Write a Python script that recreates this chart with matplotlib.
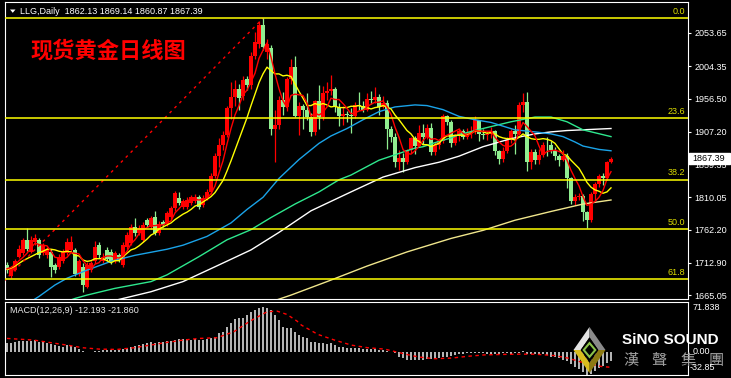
import numpy as np
import matplotlib.pyplot as plt
from matplotlib.patches import Polygon, Rectangle

plt.rcParams['font.family'] = ['Liberation Sans', 'DejaVu Sans']

# LLG daily candles, 2020-05-11 .. 2020-12-08
opens = [1710, 1693, 1702, 1722, 1727, 1747, 1729, 1744, 1747, 1727,
         1725, 1729, 1710, 1707, 1715, 1727, 1732, 1732, 1697, 1707,
         1677, 1702, 1715, 1739, 1715, 1732, 1729, 1715, 1724, 1710,
         1737, 1742, 1766, 1757, 1747, 1776, 1766, 1781, 1757, 1774,
         1771, 1781, 1794, 1809, 1796, 1796, 1801, 1804, 1811, 1799,
         1809, 1818, 1842, 1871, 1888, 1902, 1942, 1958, 1970, 1960,
         1985, 1976, 2019, 2038, 2066, 2025, 2031, 1912, 1917, 1955,
         1944, 1985, 2003, 1930, 1946, 1940, 1929, 1907, 1953, 1929,
         1964, 1968, 1970, 1944, 1930, 1934, 1932, 1930, 1947, 1945,
         1940, 1956, 1954, 1959, 1944, 1950, 1912, 1900, 1863, 1868,
         1862, 1880, 1898, 1886, 1906, 1900, 1913, 1877, 1887, 1894,
         1930, 1922, 1891, 1902, 1908, 1900, 1905, 1907, 1924, 1904,
         1902, 1904, 1908, 1878, 1867, 1879, 1895, 1909, 1904, 1947,
         1951, 1862, 1877, 1866, 1873, 1888, 1887, 1880, 1871, 1866,
         1871, 1838, 1805, 1811, 1812, 1788, 1776, 1815, 1830, 1841,
         1839, 1862.13]
highs = [1714, 1708, 1718, 1740, 1750, 1764, 1752, 1756, 1750, 1742,
         1737, 1733, 1713, 1726, 1734, 1749, 1752, 1735, 1718, 1712,
         1714, 1716, 1745, 1744, 1727, 1737, 1733, 1731, 1728, 1744,
         1758, 1770, 1779, 1769, 1773, 1780, 1783, 1789, 1775, 1777,
         1790, 1797, 1820, 1818, 1808, 1810, 1814, 1815, 1814, 1813,
         1822, 1846, 1876, 1898, 1909, 1945, 1981, 1984, 1978, 1990,
         1990, 2026, 2055, 2071, 2076, 2045, 2036, 1940, 1960, 1966,
         1989, 2015, 2020, 1951, 1949, 1965, 1935, 1955, 1976, 1975,
         1981, 1992, 1973, 1950, 1946, 1938, 1943, 1952, 1966, 1953,
         1965, 1967, 1973, 1963, 1960, 1955, 1916, 1905, 1880, 1875,
         1882, 1900, 1901, 1917, 1918, 1919, 1920, 1892, 1897, 1933,
         1932, 1925, 1904, 1913, 1912, 1913, 1915, 1931, 1925, 1911,
         1908, 1914, 1910, 1880, 1884, 1899, 1911, 1917, 1951, 1965,
         1966, 1882, 1882, 1881, 1892, 1899, 1894, 1885, 1874, 1880,
         1875, 1840, 1815, 1817, 1815, 1790, 1818, 1833, 1845, 1846,
         1864, 1869.14]
lows = [1698, 1690, 1700, 1720, 1725, 1730, 1727, 1740, 1720, 1724,
        1720, 1692, 1698, 1704, 1712, 1724, 1729, 1693, 1693, 1670,
        1675, 1699, 1712, 1720, 1712, 1716, 1711, 1712, 1714, 1707,
        1734, 1739, 1752, 1754, 1744, 1766, 1763, 1754, 1754, 1766,
        1768, 1778, 1790, 1798, 1793, 1793, 1798, 1801, 1793, 1796,
        1806, 1815, 1838, 1855, 1880, 1899, 1926, 1946, 1940, 1954,
        1969, 1970, 2015, 2032, 2028, 2015, 1902, 1863, 1912, 1932,
        1938, 1978, 1929, 1902, 1911, 1925, 1901, 1903, 1911, 1925,
        1955, 1962, 1936, 1916, 1917, 1922, 1906, 1928, 1940, 1937,
        1938, 1948, 1950, 1932, 1942, 1882, 1892, 1855, 1850, 1848,
        1860, 1875, 1874, 1884, 1889, 1896, 1873, 1873, 1882, 1890,
        1917, 1885, 1888, 1893, 1896, 1897, 1898, 1904, 1894, 1897,
        1895, 1898, 1872, 1860, 1863, 1876, 1890, 1874, 1902, 1936,
        1849, 1852, 1860, 1860, 1870, 1871, 1876, 1866, 1856, 1864,
        1824, 1800, 1799, 1806, 1775, 1764, 1773, 1806, 1825, 1828,
        1836, 1860.87]
closes = [1702, 1705, 1715, 1734, 1747, 1734, 1747, 1749, 1724, 1739,
          1732, 1707, 1702, 1722, 1729, 1744, 1744, 1697, 1715, 1680,
          1710, 1712, 1737, 1724, 1722, 1719, 1715, 1727, 1717, 1739,
          1754, 1766, 1757, 1764, 1769, 1769, 1779, 1757, 1771, 1769,
          1786, 1794, 1816, 1801, 1804, 1806, 1811, 1811, 1796, 1809,
          1818, 1842, 1871, 1888, 1902, 1942, 1958, 1970, 1957, 1984,
          1976, 2019, 2041, 2066, 2033, 2038, 1912, 1917, 1955, 1944,
          1985, 2003, 1930, 1946, 1940, 1929, 1907, 1953, 1929, 1964,
          1968, 1970, 1944, 1930, 1934, 1932, 1930, 1947, 1945, 1940,
          1956, 1954, 1959, 1944, 1950, 1912, 1900, 1863, 1868, 1862,
          1880, 1898, 1886, 1906, 1900, 1913, 1877, 1887, 1894, 1930,
          1922, 1891, 1902, 1908, 1900, 1905, 1907, 1924, 1904, 1902,
          1904, 1908, 1878, 1867, 1879, 1895, 1909, 1904, 1947, 1951,
          1862, 1877, 1866, 1873, 1888, 1887, 1880, 1871, 1866, 1871,
          1838, 1805, 1811, 1812, 1788, 1776, 1815, 1830, 1841, 1839,
          1862, 1867.39]

# moving average lines
ma5 = [1704, 1706, 1710, 1716, 1721, 1727, 1735, 1742, 1740, 1739,
       1738, 1730, 1721, 1720, 1718, 1721, 1728, 1727, 1726, 1716,
       1709, 1703, 1711, 1713, 1721, 1723, 1723, 1721, 1720, 1723,
       1730, 1741, 1747, 1756, 1762, 1765, 1768, 1768, 1769, 1769,
       1772, 1775, 1787, 1793, 1800, 1804, 1808, 1807, 1806, 1807,
       1809, 1815, 1827, 1846, 1864, 1889, 1912, 1932, 1946, 1962,
       1969, 1981, 1994, 2016, 2028, 2039, 2018, 1993, 1971, 1953,
       1943, 1961, 1963, 1962, 1961, 1950, 1930, 1935, 1932, 1936,
       1944, 1957, 1955, 1955, 1949, 1942, 1934, 1935, 1938, 1939,
       1944, 1948, 1951, 1951, 1953, 1944, 1933, 1914, 1899, 1881,
       1875, 1874, 1879, 1886, 1894, 1901, 1896, 1897, 1894, 1900,
       1902, 1905, 1908, 1911, 1905, 1901, 1904, 1909, 1908, 1908,
       1908, 1908, 1899, 1892, 1887, 1885, 1886, 1891, 1907, 1921,
       1915, 1908, 1901, 1886, 1873, 1878, 1879, 1880, 1878, 1875,
       1865, 1850, 1838, 1827, 1811, 1798, 1800, 1804, 1810, 1820,
       1837, 1848]
ma10 = [1703, 1705, 1708, 1712, 1716, 1719, 1722, 1725, 1728, 1730,
        1733, 1733, 1732, 1730, 1729, 1730, 1729, 1724, 1723, 1717,
        1715, 1716, 1719, 1719, 1719, 1716, 1713, 1716, 1716, 1722,
        1727, 1732, 1734, 1738, 1743, 1748, 1754, 1757, 1763, 1766,
        1769, 1772, 1777, 1781, 1785, 1788, 1792, 1797, 1799, 1803,
        1807, 1811, 1817, 1826, 1835, 1849, 1864, 1880, 1896, 1912,
        1928, 1946, 1963, 1980, 1993, 2003, 1998, 1993, 1993, 1990,
        1991, 1989, 1978, 1967, 1957, 1946, 1946, 1949, 1947, 1949,
        1947, 1944, 1945, 1943, 1943, 1943, 1945, 1945, 1946, 1944,
        1943, 1941, 1943, 1944, 1946, 1944, 1941, 1932, 1925, 1917,
        1909, 1904, 1896, 1893, 1888, 1888, 1885, 1888, 1890, 1897,
        1901, 1901, 1902, 1902, 1902, 1902, 1905, 1908, 1909, 1907,
        1905, 1906, 1904, 1900, 1898, 1897, 1897, 1895, 1899, 1904,
        1900, 1897, 1896, 1896, 1897, 1896, 1894, 1890, 1882, 1874,
        1872, 1865, 1859, 1853, 1843, 1832, 1825, 1821, 1819, 1816,
        1818, 1824]
ma50_x = [0, 4, 8, 12, 15, 20, 26, 32, 40, 44, 50, 56, 60, 64, 68, 73, 78, 81,
          85, 89, 93, 97, 102, 105, 109, 113, 117, 121, 127, 132, 136, 139,
          142, 144, 148, 151]
ma50_y = [1630, 1648, 1663, 1680, 1690, 1702, 1715, 1724, 1733, 1739, 1752,
          1772, 1792, 1810, 1838, 1866, 1890, 1901, 1912, 1925, 1937, 1944,
          1947, 1946, 1940, 1930, 1925, 1921, 1910, 1907, 1904, 1900, 1892,
          1886, 1881, 1879]
ma80_x = [0, 10, 17, 20, 27, 36, 40, 48, 55, 61, 66, 72, 78, 83, 86, 93, 97,
          102, 104, 108, 111, 113, 119, 126, 132, 136, 140, 144, 151]
ma80_y = [1620, 1645, 1660, 1665, 1675, 1685, 1695, 1722, 1747, 1762, 1780,
          1800, 1818, 1836, 1843, 1865, 1873, 1883, 1885, 1893, 1898, 1903,
          1912, 1922, 1929, 1929, 1922, 1910, 1900]
ma100_x = [0, 15, 29, 36, 44, 52, 61, 68, 76, 86, 94, 102, 108, 113, 119, 126,
           132, 136, 140, 151]
ma100_y = [1610, 1640, 1660, 1670, 1685, 1707, 1732, 1758, 1790, 1818, 1840,
           1854, 1862, 1871, 1885, 1897, 1904, 1907, 1909, 1912]
ma200_x = [60, 71, 80, 90, 100, 111, 119, 127, 136, 144, 151]
ma200_y = [1643, 1665, 1685, 1708, 1729, 1749, 1761, 1776, 1789, 1800, 1806]

# fibonacci retracement (2020-03-16 low -> 2020-08-07 high)
fib_levels = [2075.4, 1927.7, 1836.3, 1762.5, 1688.6]
fib_labels = ["0.0", "23.6", "38.2", "50.0", "61.8"]
trend_x = [-40, 64]
trend_y = [1449.6, 2075.4]

price_ticks = [2053.65, 2004.35, 1956.50, 1907.20, 1859.35, 1810.05,
               1762.20, 1712.90, 1665.05]

# MACD(12,26,9)
macd_main = [12.4, 13.4, 14.8, 15.8, 16.3, 16.3, 16.3, 17.2, 14.8, 14.8,
             13.4, 11.5, 10.0, 9.1, 7.7, 10.0, 9.1, 6.7, 4.3, 1.4,
             0.3, 0.5, 1.4, 1.4, 2.4, 2.4, 2.4, 2.9, 2.9, 3.8,
             5.3, 6.7, 9.1, 10.0, 11.0, 12.4, 13.9, 13.4, 14.8, 14.8,
             16.3, 16.3, 17.2, 18.2, 18.6, 18.2, 18.0, 18.2, 17.8, 18.0,
             18.6, 19.6, 22.0, 26.8, 29.2, 36.3, 41.1, 47.3, 48.3, 49.2,
             53.1, 56.9, 60.3, 63.6, 65.1, 63.6, 60.3, 53.1, 45.9, 36.3,
             34.9, 34.9, 29.2, 25.0, 22.0, 19.6, 14.8, 14.8, 12.4, 12.4,
             11.0, 12.4, 10.0, 7.7, 6.7, 5.3, 5.3, 5.3, 5.3, 4.3,
             4.3, 4.3, 4.3, 2.9, 2.9, 1.9, 0.5, -1.0, -6.7, -8.6,
             -11.0, -11.0, -11.0, -11.0, -11.0, -9.6, -9.6, -9.6, -8.6, -7.6,
             -6.7, -5.3, -4.3, -3.4, -3.4, -1.9, -1.9, -1.9, -1.9, -1.9,
             -3.4, -3.4, -3.4, -3.4, -1.9, -1.9, -3.4, -1.9, -1.0, 1.5,
             -3.4, -3.4, -3.4, -3.4, -3.4, -4.3, -6.7, -7.6, -8.6, -11.0,
             -13.4, -17.0, -21.0, -24.0, -28.5, -32.85, -31.0, -27.5, -23.5, -19.5,
             -15.5, -12.193]
signal_x = [0, 6.7, 15, 19, 23, 27.5, 31.7, 35.8, 40, 44, 48, 52.5, 56.7, 60.8,
            65, 67.5, 70, 72.5, 73.6, 77.75, 81.9, 86.1, 90.25, 94.4, 98.6,
            101.1, 103.6, 106.9, 111.1, 115.25, 119.4, 123.6, 127.75, 131.9,
            136.9, 140.25, 144.4, 148.6, 151]
signal_y = [19.6, 17.2, 10.0, 6.2, 4.3, 3.8, 6.2, 10.0, 13.9, 17.2, 19.6, 20.6,
            29.2, 44.5, 57.8, 58.8, 54.0, 44.5, 38.7, 25.3, 17.2, 10.0, 6.2,
            4.3, -1.5, -5.0, -7.5, -9.5, -8.6, -6.0, -4.0, -3.4, -3.0, -3.0,
            -5.0, -8.6, -15.8, -20.6, -21.86]

W, H = 731, 378
RED = '#FF0000'
GREEN = '#90EE90'
YELLOW = '#FFFF00'


def px_box(x0, y0, x1, y1):
    return [x0 / W, 1 - y1 / H, (x1 - x0) / W, (y1 - y0) / H]


fig = plt.figure(figsize=(W / 100, H / 100), dpi=100, facecolor='black')
ax = fig.add_axes(px_box(5, 2, 688, 299))
axm = fig.add_axes(px_box(5, 302, 688, 375), sharex=ax)

for a in (ax, axm):
    a.set_facecolor('black')
    for s in a.spines.values():
        s.set_color('white')
        s.set_linewidth(0.8)
    a.tick_params(axis='x', bottom=False, labelbottom=False)

ax.set_xlim(-0.5, 170.25)
ax.set_ylim(1659.2, 2099.6)

# candles
o = np.array(opens); h = np.array(highs); l = np.array(lows); c = np.array(closes)
idx = np.arange(len(c))
cols = np.where(c >= o, RED, GREEN)
ax.vlines(idx, l, h, colors=cols, lw=0.9, zorder=2)
body_lo = np.minimum(o, c)
body_h = np.maximum(np.abs(c - o), 1.2)
ax.bar(idx, body_h, bottom=body_lo, width=0.8, color=cols, lw=0, zorder=2)

# moving averages
ax.plot(ma200_x, ma200_y, color='#F0E68C', lw=1, zorder=3)
ax.plot(ma100_x, ma100_y, color='white', lw=1, zorder=3)
ax.plot(ma80_x, ma80_y, color='#2EE88E', lw=1, zorder=3)
ax.plot(ma50_x, ma50_y, color='#1AA3E8', lw=1, zorder=3)
ax.plot(idx, ma10, color=YELLOW, lw=1, zorder=3)
ax.plot(idx, ma5, color=RED, lw=1, zorder=3)

# fibo
ax.plot(trend_x, trend_y, color=RED, lw=1, ls=(0, (2, 3)), zorder=3)
for lev, lab in zip(fib_levels, fib_labels):
    ax.axhline(lev, color=YELLOW, lw=1.1, zorder=4)
    ax.annotate(lab, (0.996, lev), xycoords=ax.get_yaxis_transform(),
                xytext=(0, 1.5), textcoords='offset points',
                ha='right', va='bottom', color='#DCDC00', fontsize=6.5)

ax.yaxis.tick_right()
ax.set_yticks(price_ticks)
ax.set_yticklabels(['%.2f' % v for v in price_ticks])
ax.tick_params(axis='y', colors='white', length=2.5, width=0.8,
               labelsize=6.5, pad=2)

# MACD panel
axm.set_ylim(-32.85, 71.838)
axm.vlines(idx, 0, macd_main, colors='#D8D8D8', lw=1.2)
axm.plot(signal_x, signal_y, color=RED, lw=1, ls=(0, (2.5, 2.5)))
axm.set_yticks([])

# overlay for texts / logo in pixel coordinates
ov = fig.add_axes([0, 0, 1, 1], facecolor='none')
ov.set_zorder(10)
ov.set_xlim(0, W)
ov.set_ylim(H, 0)
ov.axis('off')

ov.add_patch(Polygon([(10, 9.5), (15.5, 9.5), (12.75, 12.8)], color='white', lw=0))
ov.text(20.5, 11, 'LLG,Daily  1862.13 1869.14 1860.87 1867.39', color='white',
        fontsize=6.5, va='center', ha='left')
ov.text(30, 51, '现货黄金日线图', color=RED, fontsize=16, fontweight='bold',
        family=['Noto Sans CJK SC', 'DejaVu Sans'], va='center', ha='left')

ov.add_patch(Rectangle((688.5, 152.8), 41, 11, facecolor='white', edgecolor='white'))
ov.text(692, 158.5, '1867.39', color='black', fontsize=6.5, va='center', ha='left')

ov.text(10, 310.5, 'MACD(12,26,9) -12.193 -21.860', color='#E8E8E8',
        fontsize=6.5, va='center', ha='left')

# logo
cx, cy, hw, hh = 589.5, 350, 16, 23
outer = [(cx, cy - hh), (cx + hw, cy), (cx, cy + hh), (cx - hw, cy)]
k = 0.55
inner = [(cx, cy - hh * k), (cx + hw * k, cy), (cx, cy + hh * k), (cx - hw * k, cy)]
faces = [((outer[3], outer[0], inner[0], inner[3]), '#E4E4E4'),
         ((outer[0], outer[1], inner[1], inner[0]), '#8A8A8A'),
         ((outer[1], outer[2], inner[2], inner[1]), '#8C7A12'),
         ((outer[2], outer[3], inner[3], inner[2]), '#D8BC1E')]
for pts, fc in faces:
    ov.add_patch(Polygon(pts, closed=True, facecolor=fc, edgecolor='none'))
ov.add_patch(Polygon(inner, closed=True, facecolor='black', edgecolor='none'))
g = 0.3
ov.add_patch(Polygon([(cx, cy - hh * g), (cx + hw * g * 1.2, cy), (cx, cy + hh * g),
                      (cx - hw * g * 1.2, cy)], closed=True, facecolor='black',
                     edgecolor='#8BC34A', lw=1.5))

ov.text(622, 340, 'SiNO SOUND', color='white', fontsize=11, fontweight='bold',
        va='center', ha='left')
for ch, x in zip('漢聲集團', [631, 659, 688, 716]):
    ov.text(x, 360, ch, color='#A0A0A0', fontsize=11,
            family=['Noto Sans CJK TC', 'DejaVu Sans'], va='center', ha='center')

# MACD scale labels (drawn over the logo, as in the terminal)
ov.text(693, 308, '71.838', color='white', fontsize=6.5, va='center')
ov.text(693, 352, '0.00', color='white', fontsize=6.5, va='center')
ov.text(690, 368, '-32.85', color='white', fontsize=6.5, va='center')

fig.savefig('out.png', dpi=100, facecolor='black')
